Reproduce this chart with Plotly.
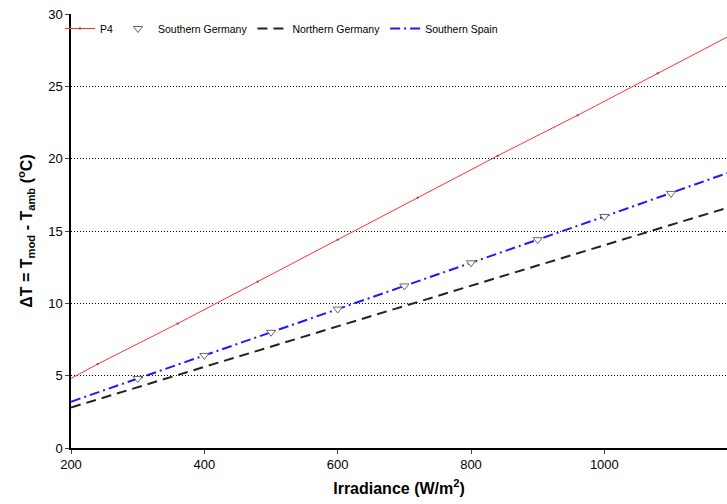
import plotly.graph_objects as go

# P4 line sample points (W/m^2); small dots sit on the inner ones
p4_irr = [200, 240, 360, 480, 600, 720, 840, 960, 1080, 1184]
p4_vals = [4.8, 5.8, 8.6, 11.5, 14.4, 17.3, 20.2, 23.0, 25.9, 28.4]
p4_dot_size = [0, 2, 2, 2, 2, 2, 2, 2, 2, 0]

irr_line = [200, 400, 600, 800, 1000, 1184]
n_germany = [2.8, 5.6, 8.4, 11.2, 14.0, 16.6]
s_spain = [3.2, 6.4, 9.6, 12.8, 16.0, 19.0]

# Southern Germany markers
sg_irr = [300, 400, 500, 600, 700, 800, 900, 1000, 1100]
sg_vals = [4.8, 6.4, 8.0, 9.6, 11.2, 12.8, 14.4, 16.0, 17.6]

y_ticks = [0, 5, 10, 15, 20, 25, 30]
x_ticks = [200, 400, 600, 800, 1000]

fig = go.Figure()
fig.add_trace(go.Scatter(x=p4_irr, y=p4_vals, mode="lines+markers", name="P4", legendrank=1,
                         line=dict(color="#ff3333", width=1),
                         marker=dict(color="#333333", size=p4_dot_size, symbol="square",
                                     line=dict(width=0))))
fig.add_trace(go.Scatter(x=irr_line, y=n_germany, mode="lines", name="Northern Germany",
                         legendrank=3,
                         line=dict(color="#222222", width=2, dash="10px,6px")))
fig.add_trace(go.Scatter(x=irr_line, y=s_spain, mode="lines", name="Southern Spain",
                         legendrank=4,
                         line=dict(color="#1a1aff", width=2, dash="10px,4px,2px,4px")))
fig.add_trace(go.Scatter(x=sg_irr, y=sg_vals, mode="markers", name="Southern Germany",
                         legendrank=2,
                         marker=dict(symbol="triangle-down", size=8, color="white",
                                     line=dict(color="#666666", width=1))))

fig.update_layout(
    width=727, height=504,
    margin=dict(l=71, r=0, t=14, b=56),
    plot_bgcolor="white", paper_bgcolor="white",
    font=dict(family="Liberation Sans, Arial, sans-serif", size=12, color="black"),
    legend=dict(orientation="h", x=0.6585, xanchor="right", y=1.0, yanchor="top",
                font=dict(size=10.5), bgcolor="rgba(0,0,0,0)", itemwidth=30,
                traceorder="normal"),
    showlegend=True,
)
fig.update_xaxes(range=[200, 1184], tickvals=x_ticks, ticks="outside", ticklen=4,
                 showline=True, linecolor="black", linewidth=1.5, showgrid=False,
                 zeroline=False, tickfont=dict(size=13),
                 title=dict(text="<b>Irradiance (W/m<sup>2</sup>)</b>", font=dict(size=16), standoff=11))
fig.update_yaxes(range=[0, 30], tickvals=y_ticks, ticks="outside", ticklen=4,
                 showline=True, linecolor="black", linewidth=1.5,
                 showgrid=True, gridcolor="black", gridwidth=1, griddash="1px,2px",
                 zeroline=False, tickfont=dict(size=13),
                 title=dict(text="<b>ΔT = T<sub>mod</sub> - T<sub>amb</sub> (<sup>o</sup>C)</b>",
                            font=dict(size=16), standoff=12))

fig.write_html("out.html")
